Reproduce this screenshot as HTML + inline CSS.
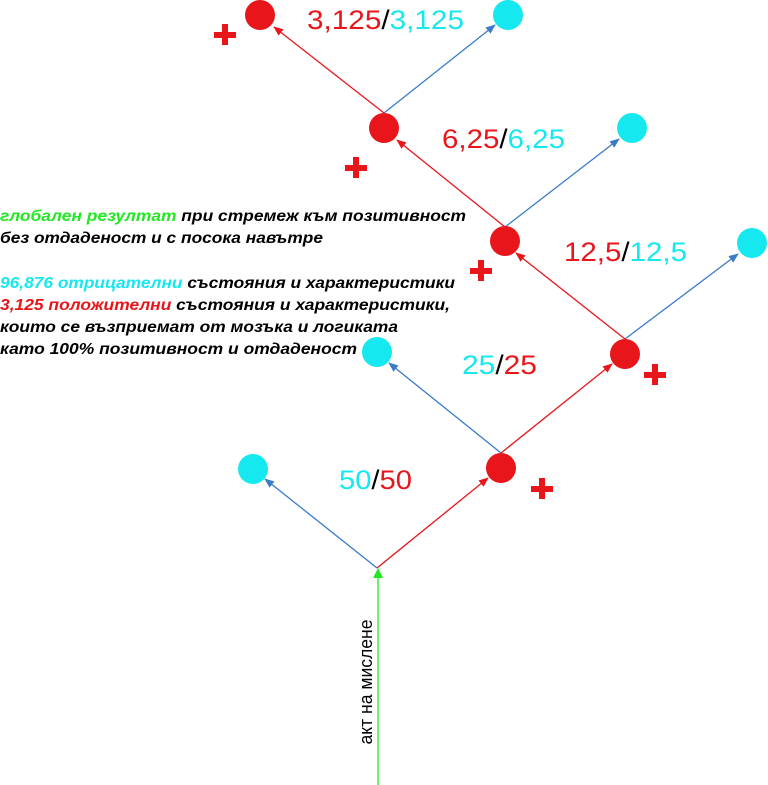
<!DOCTYPE html>
<html><head><meta charset="utf-8"><style>
html,body{margin:0;padding:0;background:#fff;width:768px;height:785px;overflow:hidden}
svg{display:block}
text{font-family:"Liberation Sans",Arial,sans-serif}
</style></head><body>
<svg width="768" height="785" viewBox="0 0 768 785" xmlns="http://www.w3.org/2000/svg">
<defs>
<marker id="ar" markerWidth="10" markerHeight="8" refX="9" refY="4" orient="auto" markerUnits="userSpaceOnUse"><path d="M0,0 L10,4 L0,8 z" fill="#e8161b"/></marker>
<marker id="ab" markerWidth="10" markerHeight="8" refX="9" refY="4" orient="auto" markerUnits="userSpaceOnUse"><path d="M0,0 L10,4 L0,8 z" fill="#3a7bc8"/></marker>
<marker id="ag" markerWidth="10" markerHeight="10" refX="9" refY="5" orient="auto" markerUnits="userSpaceOnUse"><path d="M0,0 L10,5 L0,10 z" fill="#22e822"/></marker>
</defs>
<g stroke-width="1.3" fill="none">
<line x1="378" y1="785" x2="378" y2="569" stroke="#22e822" marker-end="url(#ag)"/>
<line x1="377" y1="568" x2="265" y2="479" stroke="#3a7bc8" marker-end="url(#ab)"/>
<line x1="377" y1="568" x2="488" y2="478" stroke="#e8161b" marker-end="url(#ar)"/>
<line x1="501" y1="453" x2="389" y2="363" stroke="#3a7bc8" marker-end="url(#ab)"/>
<line x1="501" y1="453" x2="612" y2="364" stroke="#e8161b" marker-end="url(#ar)"/>
<line x1="625" y1="339" x2="738" y2="254" stroke="#3a7bc8" marker-end="url(#ab)"/>
<line x1="625" y1="339" x2="516" y2="253" stroke="#e8161b" marker-end="url(#ar)"/>
<line x1="505" y1="227" x2="619" y2="139" stroke="#3a7bc8" marker-end="url(#ab)"/>
<line x1="505" y1="227" x2="397" y2="140" stroke="#e8161b" marker-end="url(#ar)"/>
<line x1="384" y1="113" x2="495" y2="25" stroke="#3a7bc8" marker-end="url(#ab)"/>
<line x1="384" y1="113" x2="274" y2="27" stroke="#e8161b" marker-end="url(#ar)"/>
</g>
<g fill="#e8161b">
<circle cx="260" cy="15" r="15"/><circle cx="384" cy="128" r="15"/><circle cx="505" cy="241" r="15"/><circle cx="625" cy="354" r="15"/><circle cx="501" cy="468" r="15"/>
</g>
<g fill="#16e8f0">
<circle cx="508" cy="15" r="15"/><circle cx="632" cy="128" r="15"/><circle cx="752" cy="243" r="15"/><circle cx="377" cy="352" r="15"/><circle cx="253" cy="469" r="15"/>
</g>
<g fill="#e8161b">
<rect x="214" y="32" width="22" height="6"/><rect x="222" y="24" width="6" height="21"/>
<rect x="345" y="165" width="22" height="6"/><rect x="353" y="157" width="6" height="21"/>
<rect x="470" y="268" width="22" height="6"/><rect x="478" y="260" width="6" height="21"/>
<rect x="644" y="372" width="22" height="6"/><rect x="652" y="364" width="6" height="21"/>
<rect x="531" y="486" width="22" height="6"/><rect x="539" y="478" width="6" height="21"/>
</g>
<g font-size="27">
<text x="307" y="29" textLength="157" lengthAdjust="spacingAndGlyphs"><tspan fill="#e8161b">3,125</tspan><tspan fill="#000">/</tspan><tspan fill="#16e8f0">3,125</tspan></text>
<text x="442" y="148" textLength="123" lengthAdjust="spacingAndGlyphs"><tspan fill="#e8161b">6,25</tspan><tspan fill="#000">/</tspan><tspan fill="#16e8f0">6,25</tspan></text>
<text x="564" y="261" textLength="123" lengthAdjust="spacingAndGlyphs"><tspan fill="#e8161b">12,5</tspan><tspan fill="#000">/</tspan><tspan fill="#16e8f0">12,5</tspan></text>
<text x="462" y="374" textLength="75" lengthAdjust="spacingAndGlyphs"><tspan fill="#16e8f0">25</tspan><tspan fill="#000">/</tspan><tspan fill="#e8161b">25</tspan></text>
<text x="339" y="489" textLength="73" lengthAdjust="spacingAndGlyphs"><tspan fill="#16e8f0">50</tspan><tspan fill="#000">/</tspan><tspan fill="#e8161b">50</tspan></text>
</g>
<g font-size="16" font-weight="bold" font-style="italic" fill="#000">
<text x="0" y="221" textLength="466" lengthAdjust="spacingAndGlyphs"><tspan fill="#22e822">глобален резултат</tspan> при стремеж към позитивност</text>
<text x="0" y="243" textLength="323" lengthAdjust="spacingAndGlyphs">без отдаденост и с посока навътре</text>
<text x="0" y="288" textLength="455" lengthAdjust="spacingAndGlyphs"><tspan fill="#16e8f0">96,876 отрицателни</tspan> състояния и характеристики</text>
<text x="0" y="310" textLength="450" lengthAdjust="spacingAndGlyphs"><tspan fill="#e8161b">3,125 положителни</tspan> състояния и характеристики,</text>
<text x="0" y="332" textLength="398" lengthAdjust="spacingAndGlyphs">които се възприемат от мозъка и логиката</text>
<text x="0" y="354" textLength="357" lengthAdjust="spacingAndGlyphs">като 100% позитивност и отдаденост</text>
</g>
<text x="0" y="0" font-size="18" fill="#000" text-anchor="middle" textLength="125" lengthAdjust="spacingAndGlyphs" transform="translate(372,682) rotate(-90)">акт на мислене</text>
</svg>
</body></html>
